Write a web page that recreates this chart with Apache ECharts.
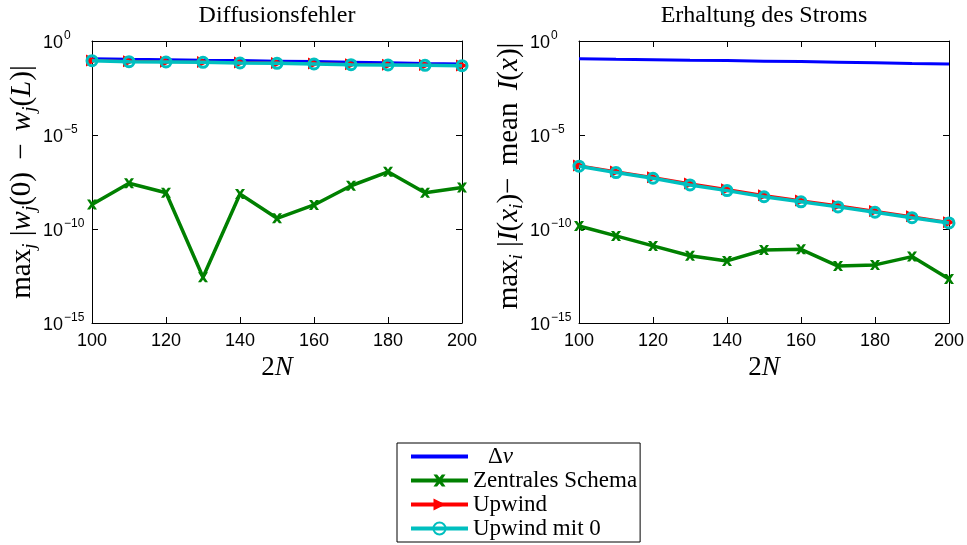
<!DOCTYPE html>
<html>
<head>
<meta charset="utf-8">
<script src="https://cdn.jsdelivr.net/npm/echarts@6/dist/echarts.min.js"></script>
<style>
  html, body { margin: 0; padding: 0; background: #fff; }
  #chart { width: 967px; height: 545px; }
</style>
</head>
<body>
<div id="chart"></div>
<script>
// Grid sizes 2N
const gridSizes = [100, 110, 120, 130, 140, 150, 160, 170, 180, 190, 200];

// Δv (same reference curve in both panels)
const deltaV = [0.115, 0.108, 0.102, 0.096, 0.091, 0.085, 0.080, 0.075, 0.070, 0.064, 0.059];

// Diffusionsfehler: max_j |w_j(0) - w_j(L)|
const diffZentral = [2.0e-9, 2.7e-8, 8.5e-9, 2.7e-13, 7.2e-9, 3.7e-10, 1.9e-9, 2.0e-8, 1.1e-7, 8.5e-9, 1.6e-8];
const diffUpwind = [0.092, 0.083, 0.079, 0.076, 0.071, 0.068, 0.063, 0.058, 0.055, 0.053, 0.050];
const diffUpwind0 = [0.0895, 0.0793, 0.0764, 0.0736, 0.0676, 0.0652, 0.0598, 0.0548, 0.0528, 0.0509, 0.0485];

// Erhaltung des Stroms: max_i |I(x_i) - mean I(x)|
const stromZentral = [1.45e-10, 4.3e-11, 1.26e-11, 3.8e-12, 2.0e-12, 7.6e-12, 8.3e-12, 1.07e-12, 1.23e-12, 3.4e-12, 2.2e-13];
const stromUpwind = [2.4e-7, 1.15e-7, 5.7e-8, 2.6e-8, 1.3e-8, 6.2e-9, 3.3e-9, 1.8e-9, 9.2e-10, 4.7e-10, 2.3e-10];
const stromUpwind0 = [2.2e-7, 1.0e-7, 5.0e-8, 2.2e-8, 1.1e-8, 5.2e-9, 2.8e-9, 1.5e-9, 7.8e-10, 4.0e-10, 2.1e-10];

// Axis ticks
const xTicks = { min: 100, max: 200, step: 20 };
const yTicks = { min: 1e-15, max: 1, stepDecades: 5 };

const panelTitles = ['Diffusionsfehler', 'Erhaltung des Stroms'];
const seriesNames = ['Δv', 'Zentrales Schema', 'Upwind', 'Upwind mit 0'];

const SERIF = '"Liberation Serif", "DejaVu Serif", serif';
const SANS = '"Liberation Sans", Arial, Helvetica, sans-serif';

const COLORS = { blue: '#0000ff', green: '#008000', red: '#ff0000', cyan: '#00bfbf' };
const X_MARK = 'path://M0,0 L3,0 L5,2.6 L7,0 L10,0 L6.6,5 L10,10 L7,10 L5,7.4 L3,10 L0,10 L3.4,5 Z';

function pairs(values) {
  return gridSizes.map((x, i) => [x, values[i]]);
}

function powerLabel(v) {
  const e = Math.round(Math.log10(v));
  const exp = e < 0 ? '\u2212' + (-e) : String(e);
  return '{b|10}{s|' + exp + '}';
}

const powerRich = {
  b: { fontFamily: SANS, fontSize: 18, color: '#000', lineHeight: 22, verticalAlign: 'bottom' },
  s: { fontFamily: SANS, fontSize: 12, color: '#000', lineHeight: 12, verticalAlign: 'top', padding: [0, 0, 0, 1] }
};

const mathRich = {
  r: { fontFamily: SERIF, fontSize: 29, color: '#000', lineHeight: 34, verticalAlign: 'middle' },
  i: { fontFamily: SERIF, fontSize: 29, fontStyle: 'italic', color: '#000', lineHeight: 34, verticalAlign: 'middle' },
  sub: { fontFamily: SERIF, fontSize: 19, fontStyle: 'italic', color: '#000', lineHeight: 18, verticalAlign: 'bottom' },
  sp: { width: 5 },
  lead: { width: 12 }
};

const yNames = [
  '{r|max}{sub|j}{r| |}{i|w}{sub|j}{r|(0)}{sp|}{r| \u2212 }{sp|}{i|w}{sub|j}{r|(}{i|L}{r|)|}',
  '{lead|}{r|max}{sub|i}{r| |}{i|I}{r|(}{i|x}{sub|i}{r|)\u2212}{sp|}{r| mean }{sp|}{i|I}{r|(}{i|x}{r|)|}'
];

const grids = [
  { left: 92, top: 41, width: 370, height: 282, outerBoundsMode: 'none', containLabel: false },
  { left: 579, top: 41, width: 370, height: 282, outerBoundsMode: 'none', containLabel: false }
];

const axisLineStyle = { show: true, lineStyle: { color: '#000', width: 1 } };
const tickInside = { show: true, inside: true, length: 6, lineStyle: { color: '#000', width: 1 } };

const xAxes = [];
const yAxes = [];
grids.forEach((g, gi) => {
  // bottom axis with labels
  xAxes.push({
    type: 'value', gridIndex: gi, position: 'bottom',
    min: xTicks.min, max: xTicks.max, interval: xTicks.step,
    axisLine: axisLineStyle, axisTick: tickInside, splitLine: { show: false },
    axisLabel: { color: '#000', fontFamily: SANS, fontSize: 18, margin: 9 },
    name: '{r|2}{i|N}', nameLocation: 'middle', nameGap: 26,
    nameTextStyle: { rich: { r: { fontFamily: SERIF, fontSize: 27, color: '#000' }, i: { fontFamily: SERIF, fontSize: 27, fontStyle: 'italic', color: '#000' } } }
  });
  // top frame axis carrying the panel title
  xAxes.push({
    type: 'value', gridIndex: gi, position: 'top',
    min: xTicks.min, max: xTicks.max, interval: xTicks.step,
    axisLine: axisLineStyle, axisTick: tickInside, splitLine: { show: false },
    axisLabel: { show: false },
    name: panelTitles[gi], nameLocation: 'middle', nameGap: 13,
    nameTextStyle: { fontFamily: SERIF, fontSize: 24, color: '#000' }
  });
  // left log axis
  yAxes.push({
    type: 'log', logBase: 10, gridIndex: gi, position: 'left',
    min: yTicks.min, max: yTicks.max, interval: yTicks.stepDecades,
    axisLine: axisLineStyle, axisTick: tickInside, splitLine: { show: false }, minorTick: { show: false },
    axisLabel: { formatter: powerLabel, rich: powerRich, align: 'left', margin: 49 },
    name: yNames[gi], nameLocation: 'middle', nameRotate: 90, nameGap: 53,
    nameTextStyle: { rich: mathRich }
  });
  // right frame axis
  yAxes.push({
    type: 'log', logBase: 10, gridIndex: gi, position: 'right',
    min: yTicks.min, max: yTicks.max, interval: yTicks.stepDecades,
    axisLine: axisLineStyle, axisTick: tickInside, splitLine: { show: false },
    axisLabel: { show: false }
  });
});

function blueSeries(gi, values) {
  return {
    name: seriesNames[0], type: 'line', xAxisIndex: gi * 2, yAxisIndex: gi * 2,
    data: pairs(values), symbol: 'none', z: 2,
    lineStyle: { color: COLORS.blue, width: 3 }, itemStyle: { color: COLORS.blue },
    silent: true, animation: false
  };
}
function greenSeries(gi, values) {
  return {
    name: seriesNames[1], type: 'line', xAxisIndex: gi * 2, yAxisIndex: gi * 2,
    data: pairs(values), symbol: X_MARK, symbolSize: 10, showAllSymbol: true, z: 3,
    lineStyle: { color: COLORS.green, width: 3.5 }, itemStyle: { color: COLORS.green },
    silent: true, animation: false
  };
}
function redSeries(gi, values) {
  return {
    name: seriesNames[2], type: 'line', xAxisIndex: gi * 2, yAxisIndex: gi * 2,
    data: pairs(values), symbol: 'triangle', symbolRotate: -90, symbolSize: 12, showAllSymbol: true, z: 4,
    lineStyle: { color: COLORS.red, width: 2.5 }, itemStyle: { color: COLORS.red },
    silent: true, animation: false
  };
}
function cyanSeries(gi, values) {
  return {
    name: seriesNames[3], type: 'line', xAxisIndex: gi * 2, yAxisIndex: gi * 2,
    data: pairs(values), symbol: 'circle', symbolSize: 10, showAllSymbol: true, z: 5,
    lineStyle: { color: COLORS.cyan, width: 3.5 },
    itemStyle: { color: 'rgba(0,0,0,0)', borderColor: COLORS.cyan, borderWidth: 3 },
    silent: true, animation: false
  };
}

const series = [
  blueSeries(0, deltaV), greenSeries(0, diffZentral), redSeries(0, diffUpwind), cyanSeries(0, diffUpwind0),
  blueSeries(1, deltaV), greenSeries(1, stromZentral), redSeries(1, stromUpwind), cyanSeries(1, stromUpwind0)
];

const legendRich = {
  n: { fontFamily: SERIF, fontSize: 23, color: '#000', lineHeight: 23 },
  it: { fontFamily: SERIF, fontSize: 23, fontStyle: 'italic', color: '#000', lineHeight: 23 },
  gap: { width: 15 }
};

const legendLine = { width: 4 };

const chart = echarts.init(document.getElementById('chart'), null, { renderer: 'canvas' });
chart.setOption({
  animation: false,
  backgroundColor: '#fff',
  grid: grids,
  xAxis: xAxes,
  yAxis: yAxes,
  legend: {
    data: [
      { name: seriesNames[0], itemStyle: { opacity: 0 }, lineStyle: legendLine },
      { name: seriesNames[1], lineStyle: legendLine },
      { name: seriesNames[2], lineStyle: legendLine },
      { name: seriesNames[3], lineStyle: legendLine }
    ],
    orient: 'vertical',
    left: 397, top: 443,
    padding: [2, 3, 2, 12],
    itemGap: 1,
    itemWidth: 57, itemHeight: 15,
    backgroundColor: '#fff',
    borderColor: '#000', borderWidth: 1, borderRadius: 0,
    selectedMode: false,
    symbolRotate: 'inherit',
    textStyle: { rich: legendRich },
    formatter: function (name) {
      if (name === 'Δv') return '{gap|}{n|Δ}{it|v}';
      return '{n|' + name + '}';
    }
  },
  series: series
});
</script>
</body>
</html>
